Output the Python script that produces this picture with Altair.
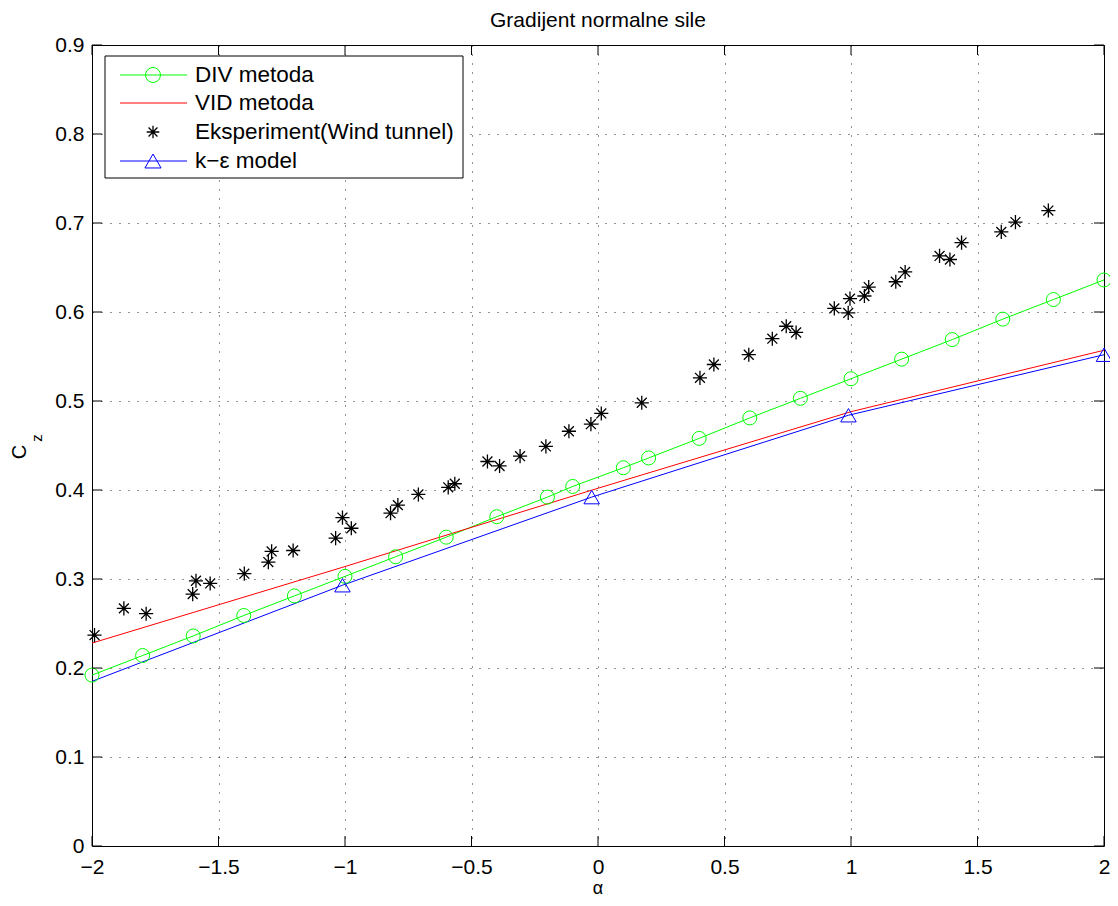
import altair as alt
import pandas as pd

# ---------------- data ----------------
div_x = [-2.0, -1.8, -1.6, -1.4, -1.2, -1.0, -0.8, -0.6, -0.4, -0.2, -0.1,
         0.1, 0.2, 0.4, 0.6, 0.8, 1.0, 1.2, 1.4, 1.6, 1.8, 2.0]
div_y = [0.192, 0.214, 0.236, 0.259, 0.281, 0.303, 0.325, 0.347, 0.370, 0.392, 0.404,
         0.425, 0.436, 0.458, 0.481, 0.503, 0.525, 0.547, 0.569, 0.592, 0.614, 0.636]

vid_x = [-2.0, -1.0, 0.0, 1.0, 2.0]
vid_y = [0.228, 0.314, 0.402, 0.488, 0.557]

ke_x = [-2.0, -1.01, -0.025, 0.99, 2.0]
ke_y = [0.185, 0.293, 0.392, 0.484, 0.552]

exp_x = [-1.99, -1.874, -1.786, -1.602, -1.589, -1.533, -1.398, -1.303, -1.29, -1.205,
         -1.037, -1.01, -0.975, -0.82, -0.791, -0.71, -0.592, -0.566, -0.437, -0.389,
         -0.308, -0.206, -0.115, -0.028, 0.013, 0.173, 0.403, 0.458, 0.596, 0.689,
         0.744, 0.783, 0.934, 0.989, 0.996, 1.053, 1.07, 1.177, 1.214, 1.35,
         1.391, 1.437, 1.594, 1.65, 1.78]
exp_y = [0.237, 0.267, 0.261, 0.283, 0.298, 0.295, 0.306, 0.319, 0.331, 0.332,
         0.346, 0.369, 0.357, 0.374, 0.383, 0.395, 0.403, 0.407, 0.432, 0.427,
         0.438, 0.449, 0.466, 0.474, 0.486, 0.498, 0.526, 0.541, 0.552, 0.570,
         0.584, 0.577, 0.604, 0.599, 0.615, 0.618, 0.628, 0.634, 0.645, 0.663,
         0.659, 0.678, 0.690, 0.701, 0.714]

x_ticks = [-2, -1.5, -1, -0.5, 0, 0.5, 1, 1.5, 2]
y_ticks = [0, 0.1, 0.2, 0.3, 0.4, 0.5, 0.6, 0.7, 0.8, 0.9]

legend_labels = ["DIV metoda", "VID metoda", "Eksperiment(Wind tunnel)", "k\u2212\u03b5 model"]
legend_colors = ["#00ff00", "#ff0000", "#000000", "#0000ff"]

title_text = "Gradijent normalne sile"
x_title = "\u03b1"

# ---------------- styling ----------------
FONT = "Liberation Sans"
W, H = 1012, 801
TICK = 10
STAR = "M0,-1L0,1M-1,0L1,0M-0.7,-0.7L0.7,0.7M-0.7,0.7L0.7,-0.7"

xscale = alt.Scale(domain=[-2, 2], nice=False, zero=False)
yscale = alt.Scale(domain=[0, 0.9], nice=False, zero=False)

grid_kw = dict(grid=True, gridColor="#000000", gridDash=[1, 8], gridWidth=1, gridOpacity=0.85,
               ticks=False, tickSize=0, domain=False, labelFont=FONT, labelFontSize=21,
               labelColor="black", labelFlush=False, labelOverlap=False, format=".1~f",
               title=None)

xaxis = alt.Axis(values=x_ticks, labelPadding=10, **grid_kw)
yaxis = alt.Axis(values=y_ticks, labelPadding=8, **grid_kw)

X = alt.X("x:Q", scale=xscale, axis=xaxis)
Y = alt.Y("y:Q", scale=yscale, axis=yaxis)

div_df = pd.DataFrame({"x": div_x, "y": div_y})
vid_df = pd.DataFrame({"x": vid_x, "y": vid_y})
ke_df = pd.DataFrame({"x": ke_x, "y": ke_y})
ke_mk = pd.DataFrame({"x": ke_x[1:], "y": ke_y[1:]})
exp_df = pd.DataFrame({"x": exp_x, "y": exp_y})

layers = []
layers.append(alt.Chart(div_df).mark_line(color="#00ff00", strokeWidth=1).encode(x=X, y=Y))
layers.append(alt.Chart(vid_df).mark_line(color="#ff0000", strokeWidth=1).encode(x=X, y=Y))
layers.append(alt.Chart(ke_df).mark_line(color="#0000ff", strokeWidth=1).encode(x=X, y=Y))
layers.append(alt.Chart(div_df).mark_point(shape="circle", size=196, color="#00ff00",
                                           filled=False, strokeWidth=1, opacity=1).encode(x=X, y=Y))
layers.append(alt.Chart(ke_mk).mark_point(shape="triangle-up", size=240, color="#0000ff",
                                          filled=False, strokeWidth=1, opacity=1).encode(x=X, y=Y))
layers.append(alt.Chart(exp_df).mark_point(shape=STAR, size=200, color="#000000",
                                           filled=False, strokeWidth=1.3, opacity=1).encode(x=X, y=Y))

# inward ticks (MATLAB style)
xt = pd.DataFrame({"x": x_ticks})
yt = pd.DataFrame({"y": y_ticks})
layers.append(alt.Chart(xt).mark_rule(color="black", strokeWidth=1).encode(
    x=X, y=alt.value(H), y2=alt.value(H - TICK)))
layers.append(alt.Chart(xt).mark_rule(color="black", strokeWidth=1).encode(
    x=X, y=alt.value(0), y2=alt.value(TICK)))
layers.append(alt.Chart(yt).mark_rule(color="black", strokeWidth=1).encode(
    y=Y, x=alt.value(0), x2=alt.value(TICK)))
layers.append(alt.Chart(yt).mark_rule(color="black", strokeWidth=1).encode(
    y=Y, x=alt.value(W), x2=alt.value(W - TICK)))

# legend box
one = pd.DataFrame({"a": [0]})
LX0, LX1, LY0, LY1 = 13, 371, 11, 133
layers.append(alt.Chart(one).mark_rect(fill="white", stroke="black", strokeWidth=1).encode(
    x=alt.value(LX0), x2=alt.value(LX1), y=alt.value(LY0), y2=alt.value(LY1)))
row0, rstep = 30, 28.5
for i, (lab, col) in enumerate(zip(legend_labels, legend_colors)):
    ly = round(row0 + rstep * i)
    if i != 2:
        layers.append(alt.Chart(one).mark_rule(color=col, strokeWidth=1).encode(
            x=alt.value(28), x2=alt.value(95), y=alt.value(ly), y2=alt.value(ly)))
    if i == 0:
        layers.append(alt.Chart(one).mark_point(shape="circle", size=225, color=col, filled=False,
                                                strokeWidth=1, opacity=1).encode(
            x=alt.value(61), y=alt.value(ly)))
    if i == 2:
        layers.append(alt.Chart(one).mark_point(shape=STAR, size=160, color=col, filled=False,
                                                strokeWidth=1.3, opacity=1).encode(
            x=alt.value(61), y=alt.value(ly)))
    if i == 3:
        layers.append(alt.Chart(one).mark_point(shape="triangle-up", size=260, color=col,
                                                filled=False, strokeWidth=1, opacity=1).encode(
            x=alt.value(61), y=alt.value(ly)))
    layers.append(alt.Chart(one).mark_text(align="left", baseline="middle", font=FONT,
                                           fontSize=22.5, color="black").encode(
        x=alt.value(103), y=alt.value(ly), text=alt.value(lab)))

# y axis title C_z (with subscript)
layers.append(alt.Chart(one).mark_text(align="center", baseline="middle", font=FONT,
                                       fontSize=20, angle=270, color="black").encode(
    x=alt.value(-72), y=alt.value(407), text=alt.value("C")))
layers.append(alt.Chart(one).mark_text(align="center", baseline="middle", font=FONT,
                                       fontSize=15, angle=270, color="black").encode(
    x=alt.value(-55), y=alt.value(393), text=alt.value("z")))
# x axis title
layers.append(alt.Chart(one).mark_text(align="center", baseline="alphabetic", font=FONT,
                                       fontSize=18, color="black").encode(
    x=alt.value(W / 2), y=alt.value(H + 48), text=alt.value(x_title)))

chart = alt.layer(*layers).properties(
    width=W, height=H,
    title=alt.TitleParams(title_text, font=FONT, fontSize=21, fontWeight="normal",
                          color="black", anchor="middle", offset=3),
    autosize=alt.AutoSizeParams(type="none"),
    padding={"left": 84, "top": 37, "right": 6, "bottom": 52},
    background="white",
).configure_view(stroke="black", strokeWidth=1)

chart.save("out.html", embed_options={"renderer": "svg", "actions": False})
